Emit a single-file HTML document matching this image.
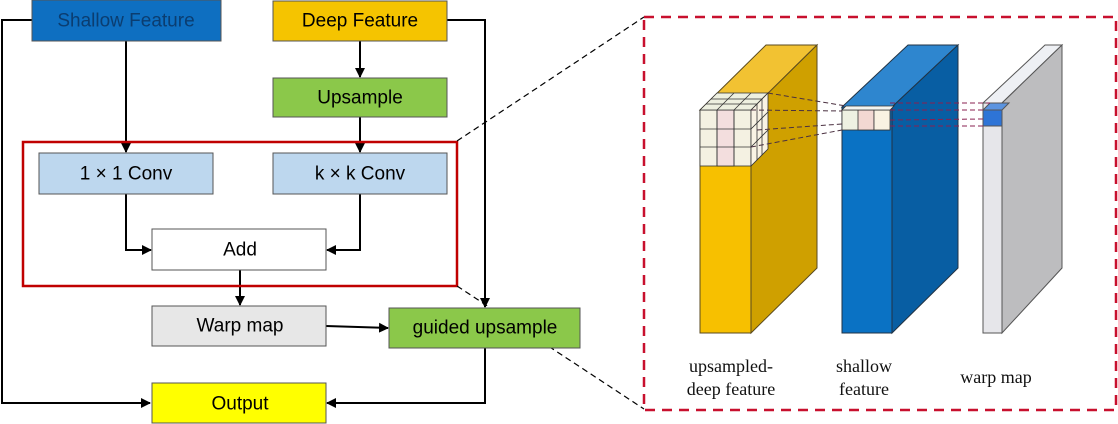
<!DOCTYPE html>
<html><head><meta charset="utf-8"><style>
html,body{margin:0;padding:0;background:#fff;}
svg{display:block;}
.t{font-family:"Liberation Sans",sans-serif;font-size:19px;text-anchor:middle;dominant-baseline:central;}
.s{font-family:"Liberation Serif",serif;font-size:18px;text-anchor:middle;fill:#111;}
</style></head><body>
<svg width="1118" height="424" viewBox="0 0 1118 424" xmlns="http://www.w3.org/2000/svg">
<defs>
<marker id="a" markerWidth="10" markerHeight="10" refX="9" refY="5" orient="auto" markerUnits="userSpaceOnUse"><path d="M0,0 L10,5 L0,10 z" fill="#000"/></marker>
</defs>
<!-- connectors -->
<g stroke="#000" stroke-width="2" fill="none">
<polyline points="32,20 2,20 2,403 150,403" marker-end="url(#a)"/>
<line x1="126" y1="41" x2="126" y2="152" marker-end="url(#a)"/>
<line x1="360" y1="41" x2="360" y2="77" marker-end="url(#a)"/>
<line x1="360" y1="117" x2="360" y2="152" marker-end="url(#a)"/>
<polyline points="447,20 485,20 485,307" marker-end="url(#a)"/>
<polyline points="126,194 126,250 151,250" marker-end="url(#a)"/>
<polyline points="360,194 360,250 327,250" marker-end="url(#a)"/>
<line x1="240" y1="270" x2="240" y2="305" marker-end="url(#a)"/>
<line x1="326" y1="326" x2="388" y2="328" marker-end="url(#a)"/>
<polyline points="485,348 485,403 327,403" marker-end="url(#a)"/>
</g>
<!-- red box -->
<rect x="23" y="142" width="434" height="144" fill="none" stroke="#c00000" stroke-width="2.5"/>
<g stroke="#000" stroke-width="1.2" stroke-dasharray="6,4">
<line x1="457" y1="141" x2="644" y2="17"/>
<line x1="457" y1="286" x2="644" y2="409"/>
</g>
<rect x="644" y="17" width="472" height="393" fill="none" stroke="#c8102e" stroke-width="2.5" stroke-dasharray="10,7"/>
<!-- boxes -->
<g stroke="#555" stroke-width="1">
<rect x="32" y="0" width="189" height="41" fill="#0e6fc1"/>
<rect x="273" y="1" width="174" height="40" fill="#f5c400"/>
<rect x="273" y="78" width="174" height="39" fill="#8bc84a"/>
<rect x="39" y="153" width="174" height="41" fill="#bdd7ee"/>
<rect x="273" y="153" width="174" height="41" fill="#bdd7ee"/>
<rect x="152" y="229" width="174" height="41" fill="#fff"/>
<rect x="152" y="306" width="174" height="40" fill="#e7e7e7"/>
<rect x="389" y="308" width="191" height="40" fill="#8bc84a"/>
<rect x="152" y="383" width="174" height="40" fill="#ffff00"/>
</g>
<text class="t" x="126" y="21" fill="#0b3d70">Shallow Feature</text>
<text class="t" x="360" y="21">Deep Feature</text>
<text class="t" x="360" y="98">Upsample</text>
<text class="t" x="126" y="174">1 × 1 Conv</text>
<text class="t" x="360" y="174">k × k Conv</text>
<text class="t" x="240" y="250">Add</text>
<text class="t" x="240" y="326">Warp map</text>
<text class="t" x="485" y="328">guided upsample</text>
<text class="t" x="240" y="404">Output</text>
<!-- yellow block -->
<g stroke="#5a4a20" stroke-width="1">
<polygon points="700,110 766,45 817,45 751,110" fill="#f2c232"/>
<polygon points="751,110 817,45 817,268 751,333" fill="#cfa000"/>
<rect x="700" y="110" width="51" height="223" fill="#f7c000"/>
</g>
<g stroke="#333" stroke-width="0.8">
<rect x="700" y="110" width="51" height="56" fill="#f4f1e2"/>
<rect x="717" y="110" width="17" height="56" fill="#f3dede"/>
<polygon points="700,110 717,93 768,93 751,110" fill="#eef0e0"/>
<polygon points="751,110 768,93 768,149 751,166" fill="#f9f3e4"/>
<line x1="700" y1="129" x2="751" y2="129"/><line x1="700" y1="147" x2="751" y2="147"/>
<line x1="717" y1="110" x2="717" y2="166"/><line x1="734" y1="110" x2="734" y2="166"/>
<line x1="706" y1="104" x2="757" y2="104"/><line x1="711" y1="99" x2="762" y2="99"/>
<line x1="734" y1="110" x2="751" y2="93"/><line x1="717" y1="110" x2="734" y2="93"/>
<line x1="757" y1="104" x2="757" y2="160"/><line x1="762" y1="99" x2="762" y2="155"/>
<line x1="751" y1="129" x2="768" y2="112"/><line x1="751" y1="147" x2="768" y2="130"/>
</g>
<!-- blue block -->
<g stroke="#234" stroke-width="1">
<polygon points="842,107 908,45 958,45 892,107" fill="#2e86cf"/>
<polygon points="892,107 958,45 958,268 892,333" fill="#085ea3"/>
<rect x="842" y="107" width="50" height="226" fill="#0a72c4"/>
</g>
<g stroke="#333" stroke-width="0.8">
<rect x="842" y="110" width="48" height="20" fill="#eef1e2"/>
<rect x="858" y="110" width="16" height="20" fill="#f2d8d2"/>
<rect x="874" y="110" width="16" height="20" fill="#f9f2e2"/>
<polygon points="842,110 846,106 894,106 890,110" fill="#f4f4f0"/>
</g>
<!-- gray block -->
<g stroke="#555" stroke-width="1">
<polygon points="983,103 1045,45 1062,45 1002,103" fill="#eef0f4"/>
<polygon points="1002,103 1062,45 1062,268 1002,333" fill="#bdbdbf"/>
<rect x="983" y="103" width="19" height="230" fill="#e6e6ea"/>
<rect x="983" y="110" width="19" height="16" fill="#2e74d6"/>
<polygon points="983,110 990,103 1009,103 1002,110" fill="#5b94e0"/>
</g>
<!-- dashed connections -->
<g stroke="#4a3040" stroke-width="1" stroke-dasharray="5,3" fill="none">
<line x1="768" y1="93" x2="846" y2="106"/>
<line x1="751" y1="110" x2="842" y2="111"/>
<line x1="757" y1="130" x2="842" y2="124"/>
<line x1="751" y1="147" x2="842" y2="130"/>
</g>
<g stroke="#8a2050" stroke-width="1" stroke-dasharray="5,3" fill="none">
<line x1="890" y1="103" x2="990" y2="103"/>
<line x1="890" y1="110" x2="983" y2="110"/>
<line x1="890" y1="120" x2="983" y2="119"/>
<line x1="890" y1="126" x2="983" y2="126"/>
</g>
<text class="s" x="731" y="372">upsampled-</text>
<text class="s" x="731" y="395">deep feature</text>
<text class="s" x="864" y="372">shallow</text>
<text class="s" x="864" y="395">feature</text>
<text class="s" x="996" y="383">warp map</text>
</svg>
</body></html>
